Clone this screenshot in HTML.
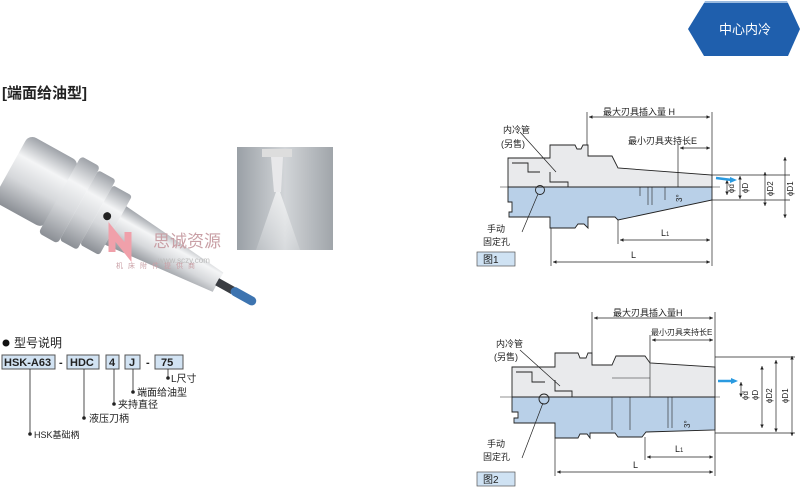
<!DOCTYPE html>
<html><head><meta charset="utf-8"><style>
html,body{margin:0;padding:0;background:#fff}
svg{display:block}
text{font-family:"Liberation Sans","Noto Sans CJK SC",sans-serif;fill:#222}
</style></head><body>
<svg width="800" height="489" viewBox="0 0 800 489" xmlns="http://www.w3.org/2000/svg">
<defs>
<linearGradient id="met" x1="0" y1="0" x2="0" y2="1">
<stop offset="0" stop-color="#9ea2a8"/><stop offset="0.3" stop-color="#f4f5f6"/><stop offset="0.6" stop-color="#d6d8db"/><stop offset="1" stop-color="#8b8f95"/></linearGradient>
<linearGradient id="ph" x1="0" y1="0" x2="1" y2="0">
<stop offset="0" stop-color="#9aa0a6"/><stop offset="0.5" stop-color="#d2d5d8"/><stop offset="1" stop-color="#a0a5aa"/></linearGradient>
<linearGradient id="jet" x1="0" y1="0" x2="0" y2="1">
<stop offset="0" stop-color="#fff" stop-opacity="0.9"/><stop offset="1" stop-color="#fff" stop-opacity="0.2"/></linearGradient>
<marker id="a" markerWidth="6" markerHeight="6" refX="5" refY="3" orient="auto"><path d="M0,0.5 L5,3 L0,5.5Z" fill="#222"/></marker>
<marker id="b" markerWidth="6" markerHeight="6" refX="1" refY="3" orient="auto"><path d="M6,0.5 L1,3 L6,5.5Z" fill="#222"/></marker>
</defs>

<!-- badge -->
<polygon points="688,29 704,3 788,3 800,29 788,56 704,56" fill="#1f5fad"/>
<polygon points="704,3 788,3 787,1 705,1" fill="#9bbbe0"/>
<text x="745" y="34" font-size="13" fill="#fff" style="fill:#fff" text-anchor="middle">中心内冷</text>

<text x="2" y="98" font-size="15" font-weight="bold">[端面给油型]</text>

<!-- holder photo -->
<g transform="translate(30,178) rotate(29)">
<rect x="-22" y="-38" width="58" height="76" rx="8" fill="url(#met)"/>
<rect x="34" y="-44" width="22" height="88" rx="4" fill="url(#met)"/>
<rect x="56" y="-40" width="20" height="80" rx="3" fill="url(#met)"/>
<rect x="76" y="-34" width="22" height="68" rx="3" fill="url(#met)"/>
<polygon points="98,-22 215,-11 215,11 98,22" fill="url(#met)"/>
<rect x="214" y="-4" width="18" height="8" fill="#3a3d42"/>
<rect x="230" y="-4.5" width="28" height="9" rx="4.5" fill="#3d74b0"/>
<circle cx="86" cy="-4" r="4" fill="#222"/>
</g>
<text x="153" y="247" font-size="17" style="fill:#c9a0a6">思诚资源</text>
<text x="158" y="263" font-size="8" style="fill:#bbb">www.sczy.com</text>
<text x="116" y="268" font-size="7" style="fill:#c9a0a6" letter-spacing="5">机床附件提供商</text>
<path d="M112,252 L112,232 L128,252 L128,232" stroke="#f0a0aa" stroke-width="7" fill="none"/>

<!-- inset photo -->
<rect x="237" y="147" width="96" height="103" fill="url(#ph)"/>
<rect x="262" y="149" width="30" height="8" fill="#ddd"/>
<polygon points="271,157 283,157 281,192 274,192" fill="#e8e8ea"/>
<polygon points="276,192 280,192 300,250 256,250" fill="url(#jet)" opacity="0.7"/>

<!-- model code -->
<circle cx="6" cy="343" r="3.5" fill="#111"/>
<text x="14" y="347" font-size="12">型号说明</text>
<g font-size="11" font-weight="bold">
<rect x="2" y="355" width="53" height="14" fill="#d2e3f3" stroke="#555"/><text x="4" y="366">HSK-A63</text>
<text x="59" y="366">-</text>
<rect x="67" y="355" width="32" height="14" fill="#d2e3f3" stroke="#555"/><text x="70" y="366">HDC</text>
<rect x="106" y="355" width="13" height="14" fill="#d2e3f3" stroke="#555"/><text x="109" y="366">4</text>
<rect x="125" y="355" width="15" height="14" fill="#d2e3f3" stroke="#555"/><text x="129" y="366">J</text>
<text x="146" y="366">-</text>
<rect x="155" y="355" width="28" height="14" fill="#d2e3f3" stroke="#555"/><text x="161" y="366">75</text>
</g>
<g stroke="#222" stroke-width="0.8" fill="none">
<path d="M30,369 V434"/><path d="M84,369 V418"/><path d="M114,369 V403"/><path d="M133,369 V392"/><path d="M168,369 V377"/>
</g>
<g font-size="10">
<circle cx="168" cy="378" r="1.8" fill="#222"/><text x="171" y="382">L尺寸</text>
<circle cx="133" cy="392" r="1.8" fill="#222"/><text x="137" y="396">端面给油型</text>
<circle cx="114" cy="404" r="1.8" fill="#222"/><text x="118" y="408">夹持直径</text>
<circle cx="84" cy="418" r="1.8" fill="#222"/><text x="89" y="422">液压刀柄</text>
<circle cx="30" cy="434" r="1.8" fill="#222"/><text x="34" y="438" font-size="9">HSK基础柄</text>
</g>

<!-- FIGURE 1 -->
<g stroke="#222" stroke-width="0.9">
<path d="M508,187 V158 H550 V145 H575 L577,149 L581,149 L583,145 H588 V156 H612 L618,168 L712,175 V187 Z" fill="#e9eaec"/>
<path d="M508,187 V202 H512 V212 H509 V217 H550 V228 H575 L578,224 L584,224 L588,228 V217 H615 L618,220 L712,200 V187 Z" fill="#b9d0e8"/>
<path d="M512,163 H528 V172 H540 M550,172 V182 H568 V187" fill="none"/>
<path d="M640,187 V196 M648,187 V205 M652,187 V205 M665,187 V200" fill="none" stroke-width="0.6"/>
<circle cx="540" cy="190" r="4.5" fill="none"/>
</g>
<line x1="500" y1="187" x2="720" y2="187" stroke="#222" stroke-width="0.5"/>
<g stroke="#222" stroke-width="0.7" fill="none">
<line x1="587" y1="145" x2="587" y2="112"/><line x1="712" y1="175" x2="712" y2="112"/>
<line x1="589" y1="117" x2="710" y2="117" marker-start="url(#b)" marker-end="url(#a)"/>
<line x1="678" y1="187" x2="678" y2="143"/>
<line x1="680" y1="148" x2="710" y2="148" marker-start="url(#b)" marker-end="url(#a)"/>
<line x1="551" y1="228" x2="551" y2="266"/><line x1="712" y1="200" x2="712" y2="266"/>
<line x1="553" y1="262" x2="710" y2="262" marker-start="url(#b)" marker-end="url(#a)"/>
<line x1="618" y1="220" x2="618" y2="244"/>
<line x1="620" y1="240" x2="710" y2="240" marker-start="url(#b)" marker-end="url(#a)"/>
<line x1="712" y1="175" x2="790" y2="175"/><line x1="712" y1="200" x2="790" y2="200"/>
<line x1="727" y1="180" x2="727" y2="195" marker-start="url(#b)" marker-end="url(#a)"/>
<line x1="740" y1="176" x2="740" y2="199" marker-start="url(#b)" marker-end="url(#a)"/>
<line x1="765" y1="172" x2="765" y2="206" marker-start="url(#b)" marker-end="url(#a)"/>
<line x1="785" y1="157" x2="785" y2="218" marker-start="url(#b)" marker-end="url(#a)"/>
<path d="M520,132 L556,172" /><path d="M538,194 L522,232"/>
</g>
<path d="M716,178 L732,180" stroke="#2a9ae0" stroke-width="2.5"/><path d="M730,177 L737,180 L730,183Z" fill="#2a9ae0"/>
<g font-size="9">
<text x="603" y="115">最大刃具插入量 H</text>
<text x="628" y="144">最小刃具夹持长E</text>
<text x="503" y="133">内冷管</text><text x="501" y="147">(另售)</text>
<text x="487" y="232">手动</text><text x="483" y="245">固定孔</text>
<text x="631" y="258">L</text><text x="661" y="236">L<tspan font-size="6">1</tspan></text>
<text x="682" y="202" transform="rotate(-90 682 202)" font-size="8">3°</text>
<text x="734" y="193" transform="rotate(-90 734 193)" font-size="8">ϕd</text>
<text x="748" y="193" transform="rotate(-90 748 193)" font-size="8">ϕD</text>
<text x="773" y="196" transform="rotate(-90 773 196)" font-size="8">ϕD2</text>
<text x="793" y="196" transform="rotate(-90 793 196)" font-size="8">ϕD1</text>
</g>
<rect x="477" y="252" width="38" height="14" fill="#cfe2f3" stroke="#555" stroke-width="0.7"/>
<text x="483" y="263" font-size="10">图1</text>

<!-- FIGURE 2 -->
<g stroke="#222" stroke-width="0.9">
<path d="M512,397 V367 H555 V353 H578 L580,358 L586,358 L588,353 H592 V365 H612 L616,356 H645 L650,363 L715,367 V397 Z" fill="#e9eaec"/>
<path d="M512,397 V412 H518 V418 H514 V423 H555 V438 H578 L580,434 L587,434 L590,438 V433 H615 L618,437 H642 L646,432 L715,430 V397 Z" fill="#b9d0e8"/>
<path d="M516,372 H532 V382 H545 M555,380 V391 H572 V397" fill="none"/>
<path d="M650,363 V397 M612,378 H650" fill="none" stroke-width="0.6"/>
<path d="M612,397 V430 M630,397 V430 M668,397 V428 M672,397 V428" fill="none" stroke-width="0.6"/>
<circle cx="544" cy="399" r="5" fill="none"/>
</g>
<line x1="500" y1="397" x2="720" y2="397" stroke="#222" stroke-width="0.5"/>
<g stroke="#222" stroke-width="0.7" fill="none">
<line x1="592" y1="353" x2="592" y2="312"/><line x1="715" y1="367" x2="715" y2="312"/>
<line x1="594" y1="318" x2="713" y2="318" marker-start="url(#b)" marker-end="url(#a)"/>
<line x1="650" y1="363" x2="650" y2="335"/>
<line x1="652" y1="340" x2="713" y2="340" marker-start="url(#b)" marker-end="url(#a)"/>
<line x1="555" y1="438" x2="555" y2="476"/><line x1="715" y1="430" x2="715" y2="476"/>
<line x1="557" y1="472" x2="713" y2="472" marker-start="url(#b)" marker-end="url(#a)"/>
<line x1="645" y1="437" x2="645" y2="460"/>
<line x1="647" y1="457" x2="713" y2="457" marker-start="url(#b)" marker-end="url(#a)"/>
<line x1="715" y1="357" x2="795" y2="357"/><line x1="715" y1="433" x2="795" y2="433"/>
<line x1="741" y1="382" x2="741" y2="397" marker-start="url(#b)" marker-end="url(#a)"/>
<line x1="762" y1="366" x2="762" y2="428" marker-start="url(#b)" marker-end="url(#a)"/>
<line x1="776" y1="360" x2="776" y2="432" marker-start="url(#b)" marker-end="url(#a)"/>
<line x1="792" y1="356" x2="792" y2="436" marker-start="url(#b)" marker-end="url(#a)"/>
<path d="M520,350 L560,386"/><path d="M543,403 L522,458"/>
</g>
<path d="M718,381 L733,381" stroke="#2a9ae0" stroke-width="2.5"/><path d="M731,378 L738,381 L731,384Z" fill="#2a9ae0"/>
<g font-size="9">
<text x="613" y="316">最大刃具插入量H</text>
<text x="651" y="335" font-size="8">最小刃具夹持长E</text>
<text x="496" y="347">内冷管</text><text x="494" y="360">(另售)</text>
<text x="487" y="447">手动</text><text x="483" y="460">固定孔</text>
<text x="633" y="468">L</text><text x="675" y="452">L<tspan font-size="6">1</tspan></text>
<text x="690" y="428" transform="rotate(-90 690 428)" font-size="8">3°</text>
<text x="748" y="400" transform="rotate(-90 748 400)" font-size="8">ϕd</text>
<text x="758" y="400" transform="rotate(-90 758 400)" font-size="8">ϕD</text>
<text x="772" y="403" transform="rotate(-90 772 403)" font-size="8">ϕD2</text>
<text x="788" y="403" transform="rotate(-90 788 403)" font-size="8">ϕD1</text>
</g>
<rect x="477" y="472" width="38" height="14" fill="#cfe2f3" stroke="#555" stroke-width="0.7"/>
<text x="483" y="483" font-size="10">图2</text>
</svg>
</body></html>
